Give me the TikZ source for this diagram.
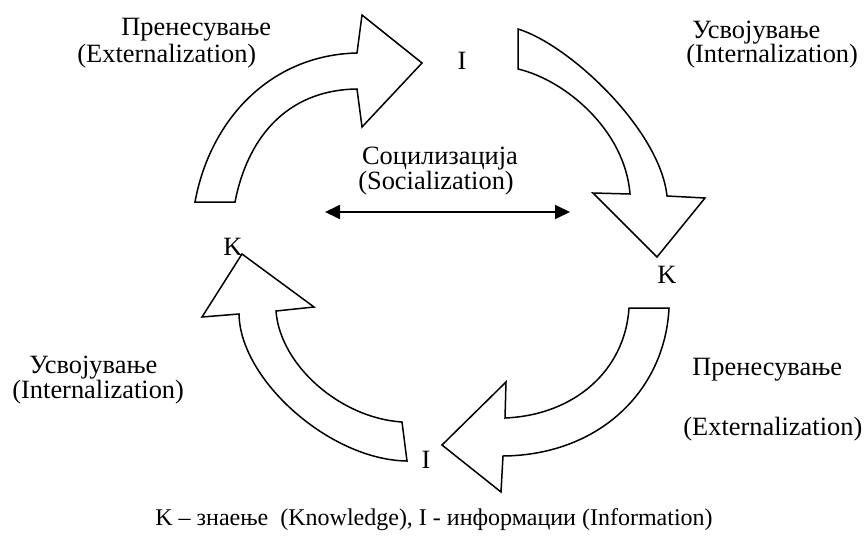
\documentclass[tikz,border=0pt]{standalone}
\usepackage{fontspec}
\setmainfont{Liberation Serif}
\usetikzlibrary{arrows.meta}

\begin{document}
\begin{tikzpicture}[x=0.5pt,y=-0.5pt,
  blockarrow/.style={draw=black, fill=white, line width=0.75pt, line join=miter},
  lbl/.style={font=\fontsize{13.2}{16}\selectfont, inner sep=0pt, anchor=base west},
  mid/.style={lbl, anchor=base},
  twoway/.style={{Triangle[length=7.5pt,width=7pt]}-{Triangle[length=7.5pt,width=7pt]}, line width=0.9pt}
]
  \useasboundingbox (0,0) rectangle (865,535);

  % Externalization, K -> I
  \draw[blockarrow] (195,202) .. controls (210,120) and (270,55) .. (357,53)
    -- (362,15) -- (422,63) -- (362,127) -- (357,89)
    .. controls (285,90) and (247,140) .. (235,202) -- cycle;
  % Internalization, I -> K
  \draw[blockarrow] (518,29) .. controls (570,45) and (660,130) .. (667,196)
    -- (705,198) -- (657,257) -- (593,193) -- (630,194)
    .. controls (625,130) and (565,80) .. (518,69) -- cycle;
  % Externalization, K -> I
  \draw[blockarrow] (629,308) -- (669,308) .. controls (665,390) and (600,455) .. (503,456)
    -- (501,492) -- (442,445) -- (506,382) -- (505,418)
    .. controls (575,415) and (625,370) .. cycle;
  % Internalization, I -> K
  \draw[blockarrow] (402,422) -- (407,461) .. controls (330,460) and (240,380) .. (239,314)
    -- (202,317) -- (242,254) -- (314,307) -- (276,311)
    .. controls (280,365) and (340,418) .. cycle;

  \node[lbl] (ext1a) at (121,36) {Пренесување};
  \node[lbl] (ext1b) at (77,62) {(Externalization)};
  \node[lbl] (int1a) at (692,39) {Усвојување};
  \node[lbl] (int1b) at (686,63) {(Internalization)};
  \node[lbl] (int2a) at (29,373) {Усвојување};
  \node[lbl] (int2b) at (12,398) {(Internalization)};
  \node[lbl] (ext2a) at (692,375) {Пренесување};
  \node[lbl] (ext2b) at (683,435) {(Externalization)};

  \node[mid] (infoT) at (462,69) {I};
  \node[mid] (infoB) at (426,468) {I};
  \node[mid] (knowL) at (233,255) {K};
  \node[mid] (knowR) at (667,283) {K};

  \node[mid] (soc1) at (440,164) {Социлизација};
  \node[mid] (soc2) at (436,189) {(Socialization)};
  \coordinate (socL) at (325,212);
  \coordinate (socR) at (570,212);
  \draw[twoway] (socL) -- (socR);

  \node[lbl, font=\fontsize{12}{14}\selectfont] (legend) at (155,525)
    {K – знаење\ \ (Knowledge), I - информации (Information)};
\end{tikzpicture}
\end{document}
